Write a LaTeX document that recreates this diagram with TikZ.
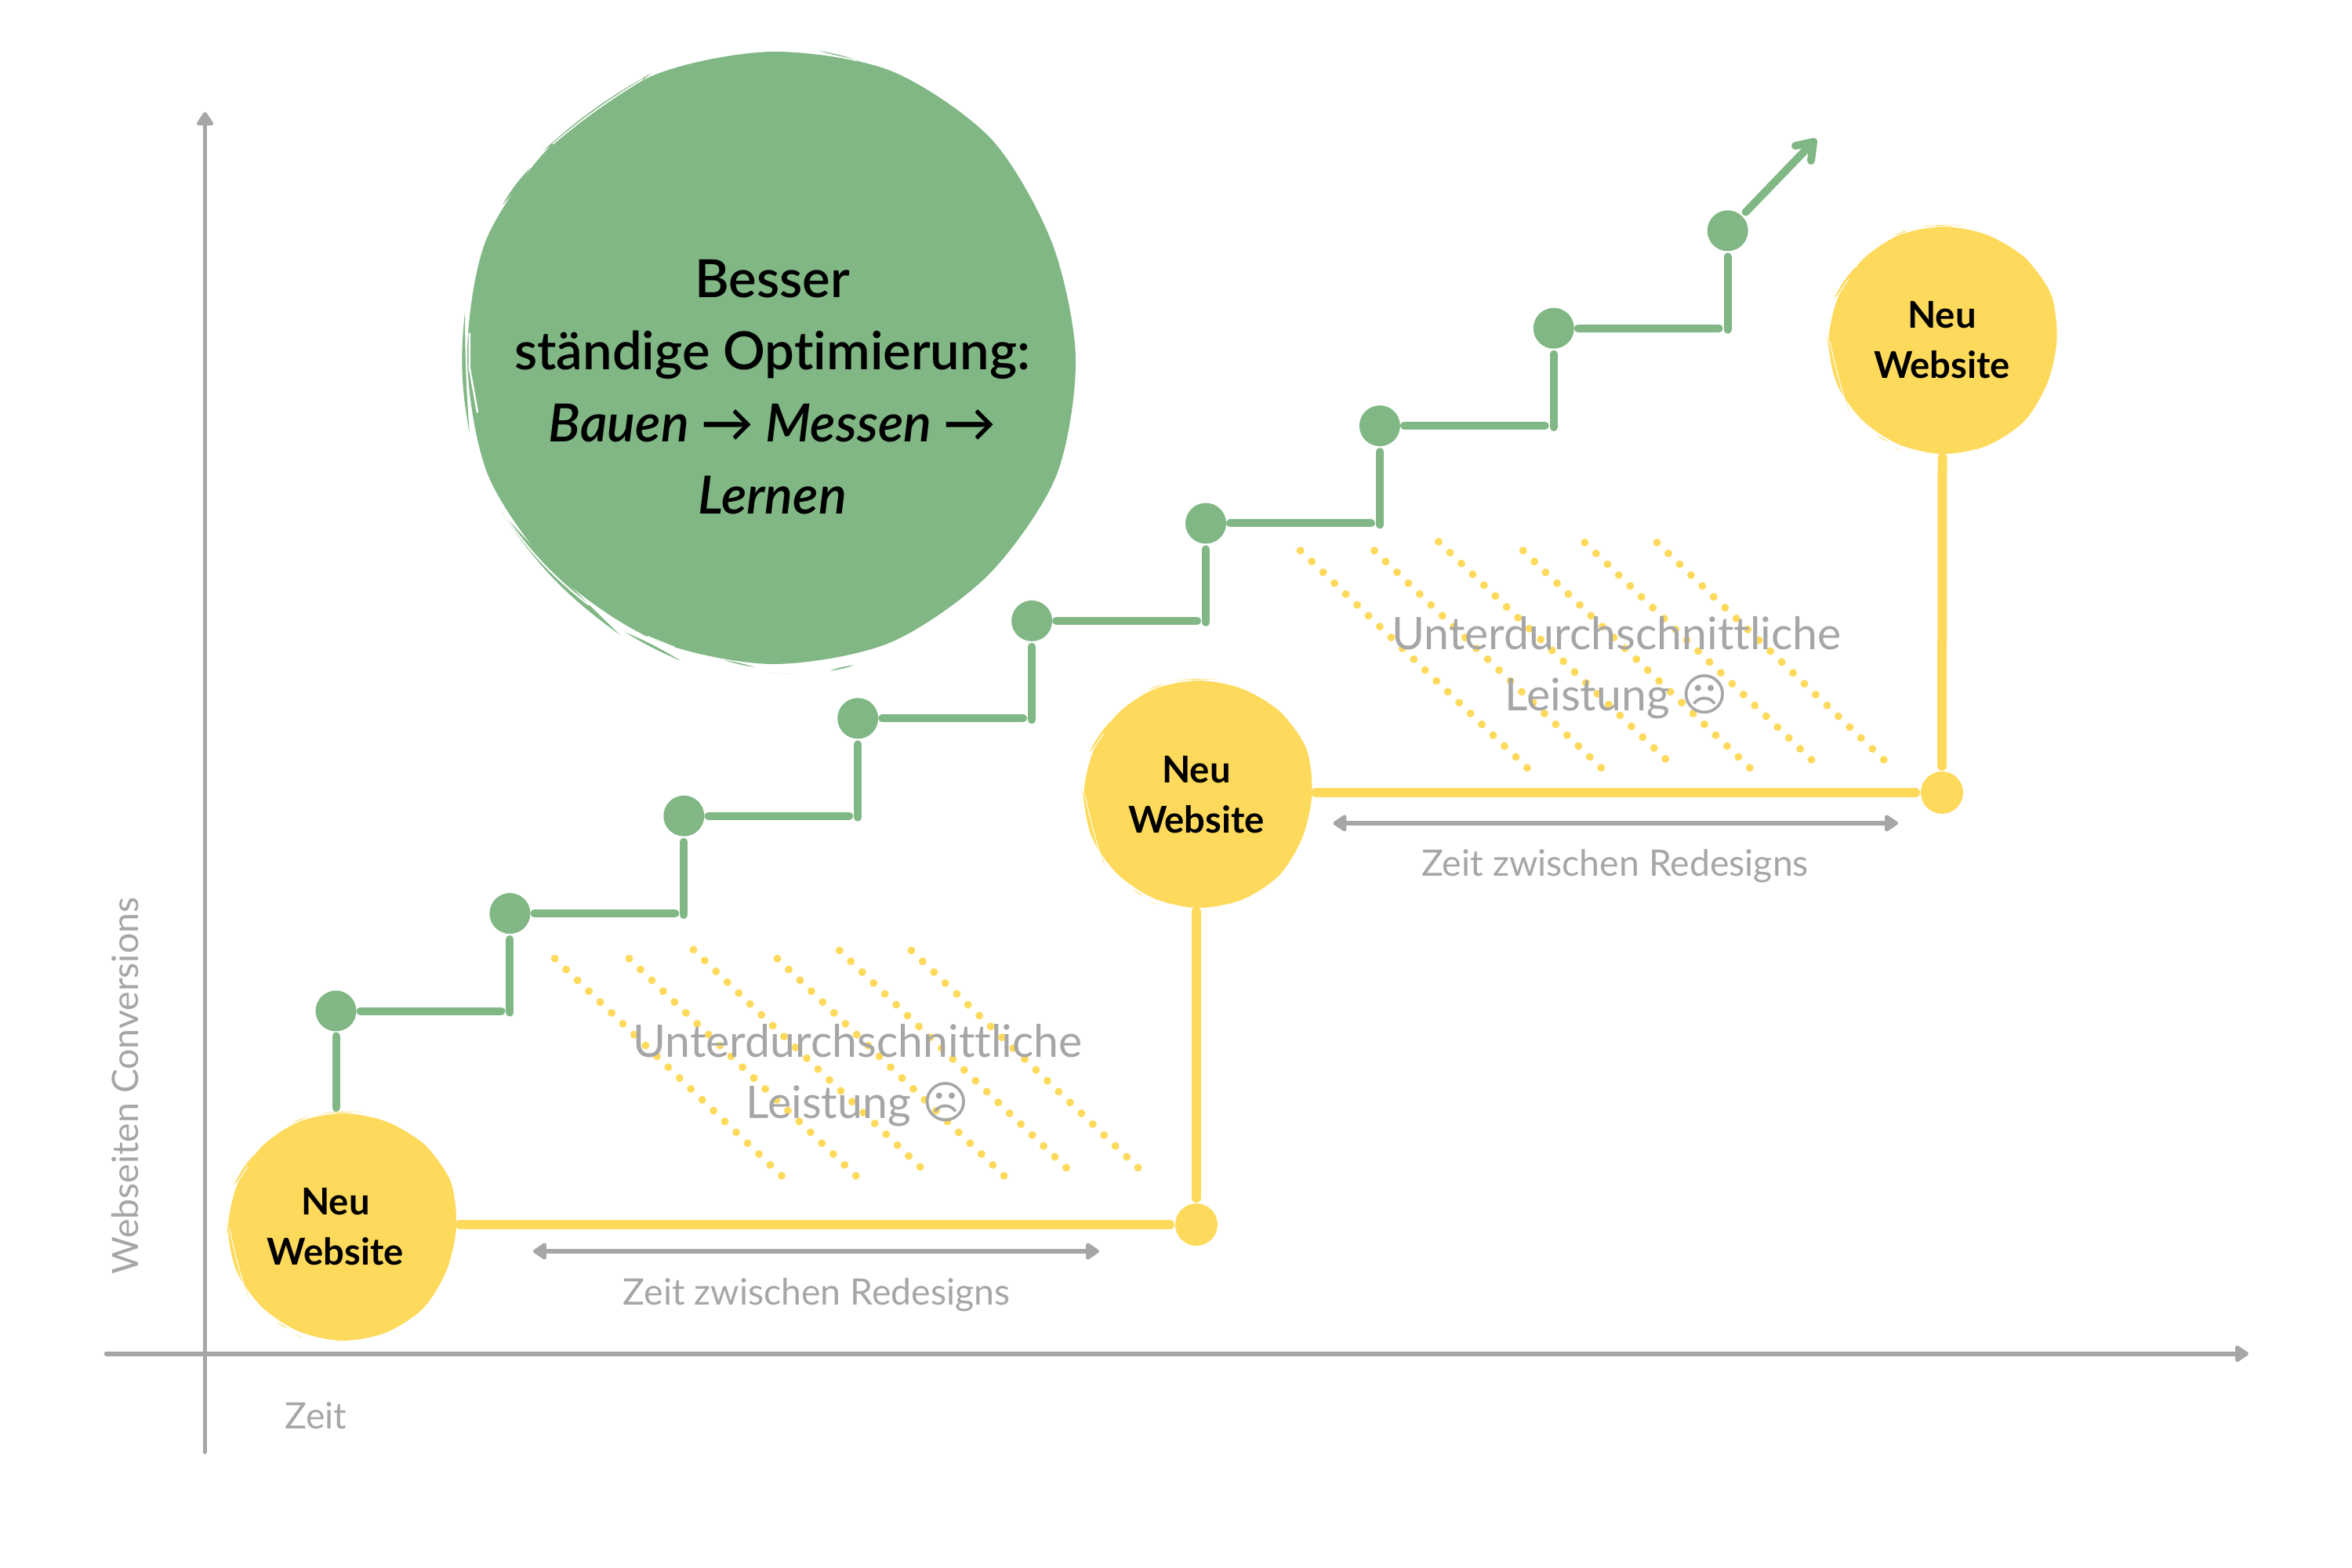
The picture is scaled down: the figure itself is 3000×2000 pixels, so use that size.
\documentclass[tikz,border=0pt]{standalone}
\usepackage{fontspec}
\usetikzlibrary{arrows.meta}
\setmainfont[Ligatures=CommonOff]{Lato}
\newfontfamily\medfont[Ligatures=CommonOff,ItalicFont={Lato Semibold Italic},ItalicFeatures={Ligatures=CommonOff}]{Lato Semibold}
\newfontfamily\symfont{DejaVu Sans}
\definecolor{gr}{HTML}{80B785}
\definecolor{yl}{HTML}{FEDA5C}
\definecolor{gy}{HTML}{A6A6A6}
\tikzset{
  gdot/.style={circle,fill=gr,inner sep=0pt,outer sep=0pt,minimum size=26pt},
  ydot/.style={circle,fill=yl,inner sep=0pt,outer sep=0pt,minimum size=27pt},
  blobnode/.style={circle,inner sep=0pt,outer sep=0pt,minimum size=145pt},
  gline/.style={draw=gr,line width=5pt,line cap=round},
  yline/.style={draw=yl,line width=6pt,line cap=round},
  axisline/.style={draw=gy,line width=2.8pt,line cap=round,-{Triangle[length=9.5pt,width=12pt,round]}},
  spanline/.style={draw=gy,line width=3pt,{Triangle[length=9.5pt,width=12pt,round]}-{Triangle[length=9.5pt,width=12pt,round]}},
  neu/.style={font=\fontsize{23.6}{32}\selectfont\bfseries,text=black,align=center,inner sep=0pt},
  under/.style={font=\fontsize{28.6}{39}\selectfont,text=gy,align=center,inner sep=0pt},
  zeit/.style={font=\fontsize{23.2}{26}\selectfont,text=gy,inner sep=0pt},
  big/.style={font=\medfont\fontsize{33.5}{46}\selectfont,text=black,align=center,inner sep=0pt},
}
\newcommand{\yellowblob}[2]{%
  \begin{scope}[shift={(#1,#2)}]
    \fill[yl] plot[smooth cycle] coordinates {(0:146)(22.5:145)(45:147.5)(67.5:147)(90:146)(112.5:145)(135:145)(157.5:146)(180:145)(202.5:143.5)(225:144)(247.5:144)(270:144)(292.5:145)(315:148)(337.5:150)};
  \end{scope}
  \begin{scope}[shift={(#1,#2)},x=0.19135pt,y=-0.16667pt,shift={(-878,-492)}]
    \fill[yl] (795,62) to[bend left=5] (950,55) to[bend right=2] (795,62);
    \draw[white,line width=0.5pt] (800,67) -- (855,61);
    \fill[yl] (715,95) to[bend left=5] (765,72) to[bend left=5] (715,95);
    \fill[yl] (1145,170) to[bend left=5] (1180,215) to[bend left=5] (1145,170);
    \fill[yl] (518,335) to[bend left=8] (588,215) to[bend left=8] (518,335);
    \draw[white,line width=0.5pt] (530,322) -- (565,262);
    \fill[yl] (490,470) to[bend right=6] (570,770) to[bend left=2] (490,470);
    \draw[white,line width=0.5pt] (503,500) to[bend right=3] (560,745);
    \fill[yl] (660,860) to[bend right=6] (700,885) to[bend right=6] (660,860);
    \fill[yl] (720,908) to[bend right=6] (745,918) to[bend right=6] (720,908);
  \end{scope}}
\begin{document}
\begin{tikzpicture}[x=0.5pt,y=-0.5pt]
\useasboundingbox (0,0) rectangle (3000,2000);
% axes
\coordinate (ybot) at (261.5,1852);
\coordinate (ytop) at (261.5,143);
\coordinate (xleft) at (135.5,1726.7);
\coordinate (xright) at (2868,1726.7);
\draw[axisline] (ybot) -- (ytop);
\draw[axisline] (xleft) -- (xright);
% big blob
\begin{scope}[shift={(984,457)}]
  \fill[gr] plot[smooth cycle] coordinates {(0:388)(22.5:393)(45:391)(67.5:393)(90:390)(112.5:389)(135:388)(157.5:391)(180:388)(202.5:394)(225:391)(247.5:391)(270:391)(292.5:397)(315:396)(337.5:387)};
\end{scope}
\begin{scope}[shift={(550,30)},x=0.28703pt,y=-0.27427pt]
  \fill[gr] (860,63) to[bend left=4] (955,88) to[bend left=2] (860,63);
  \draw[white,line width=0.8pt] (875,70) -- (945,86);
  \fill[gr] (248,296) to[bend left=6] (490,115) to[bend left=2] (248,296);
  \draw[white,line width=0.8pt] (270,280) to[bend left=4] (470,130);
  \fill[gr] (158,422) to[bend left=6] (220,335) to[bend left=6] (158,422);
  \fill[gr] (85,952) to[bend left=8] (75,670) to[bend right=2] (85,952);
  \draw[white,line width=1.2pt] (85,720) -- (85,800) -- (103,905);
  \fill[gr] (420,1422) to[bend left=10] (155,1135) to[bend right=2] (420,1422);
  \draw[white,line width=1pt] (160,1140) to[bend right=8] (350,1352);
  \fill[gr] (430,1415) to[bend right=4] (555,1482) to[bend right=4] (430,1415);
  \draw[white,line width=0.8pt] (480,1425) -- (540,1450);
  \fill[gr] (650,1480) to[bend right=4] (720,1497) to[bend right=4] (650,1480);
  \fill[gr] (750,1508) to[bend right=6] (810,1512) to[bend left=6] (750,1508);
  \fill[gr] (885,1505) to[bend right=6] (940,1492) to[bend right=6] (885,1505);
\end{scope}
\node[big] (bigtext) at (985,494) {Besser\\ständige Optimierung:\\\itshape Bauen → Messen →\\\itshape Lernen};
% dotted hatching
\foreach \sx/\sy in {707.7/1222.7,802.5/1222.7,884.4/1211.3,991.5/1222.7,1070.8/1212.3,1162.4/1212.3,
                     1658.7/702.3,1753/702.3,1835/691,1942.6/702.3,2021.4/692,2113.5/692}{
  \foreach \k in {0,...,20}{
    \fill[yl] ({\sx+14.46*\k},{\sy+13.85*\k}) circle[radius=2.5pt];
  }
}
% yellow blobs
\yellowblob{436}{1564}
\yellowblob{1527.5}{1012}
\yellowblob{2477.5}{433}
\node[blobnode] (b1) at (436,1564) {};
\node[blobnode] (b2) at (1527.5,1012) {};
\node[blobnode] (b3) at (2477.5,433) {};
\node[neu] (t1) at (428,1565) {Neu\\Website};
\node[neu] (t2) at (1526,1014) {Neu\\Website};
\node[neu] (t3) at (2477,434) {Neu\\Website};
% yellow dots and connectors
\node[ydot] (y1) at (1526,1562) {};
\node[ydot] (y2) at (2477,1011) {};
\draw[yline,shorten <=3pt,shorten >=3.5pt] (b1.east |- y1) -- (y1);
\draw[yline,shorten <=3pt,shorten >=3.5pt] (b2.south -| y1) -- (y1);
\draw[yline,shorten <=3pt,shorten >=3.5pt] (b2.east |- y2) -- (y2);
\draw[yline,shorten <=3pt,shorten >=3.5pt] (b3.south) -- (y2);
% green stair
\foreach \i [evaluate=\i as \px using {428.5+221.9*(\i-1)},evaluate=\i as \py using {1289.5-124.4*(\i-1)}] in {1,...,9}{
  \node[gdot] (d\i) at (\px,\py) {};
}
\draw[gline,shorten <=3pt,shorten >=3pt] (d1.south) -- (d1.south |- b1.north);
\foreach \i [remember=\i as \p (initially 1)] in {2,...,9}{
  \draw[gline,shorten <=2.5pt,shorten >=5.5pt] (d\p.east) -- (d\p.east -| d\i.center);
  \draw[gline,shorten <=-1pt,shorten >=3.5pt] (d\p.east -| d\i.center) -- (d\i.south);
}
\coordinate (tip) at (2313,181);
\draw[gline,shorten <=3.5pt] (d9) -- (tip);
\coordinate (arma) at (2290,186);
\coordinate (armb) at (2310,205);
\draw[gline,line join=round] (arma) -- (tip) -- (armb);
% spans
\coordinate (s1a) at (680,1596);
\coordinate (s1b) at (1402,1596);
\draw[spanline] (s1a) -- (s1b);
\coordinate (s2a) at (1700.5,1050);
\coordinate (s2b) at (2421,1050);
\draw[spanline] (s2a) -- (s2b);
% labels
\node[under] (u1) at (1094,1372) {Unterdurchschnittliche\\Leistung {\symfont ☹}};
\node[under] (u2) at (2062,852) {Unterdurchschnittliche\\Leistung {\symfont ☹}};
\node[zeit,anchor=base] (z1) at (1041.6,1664) {Zeit zwischen Redesigns};
\node[zeit,anchor=base] (z2) at (2060,1117) {Zeit zwischen Redesigns};
\node[zeit,anchor=base west] (z0) at (363,1822) {Zeit};
\node[zeit,anchor=base,rotate=90] (yl) at (176.5,1385) {Webseiten Conversions};
\end{tikzpicture}
\end{document}
